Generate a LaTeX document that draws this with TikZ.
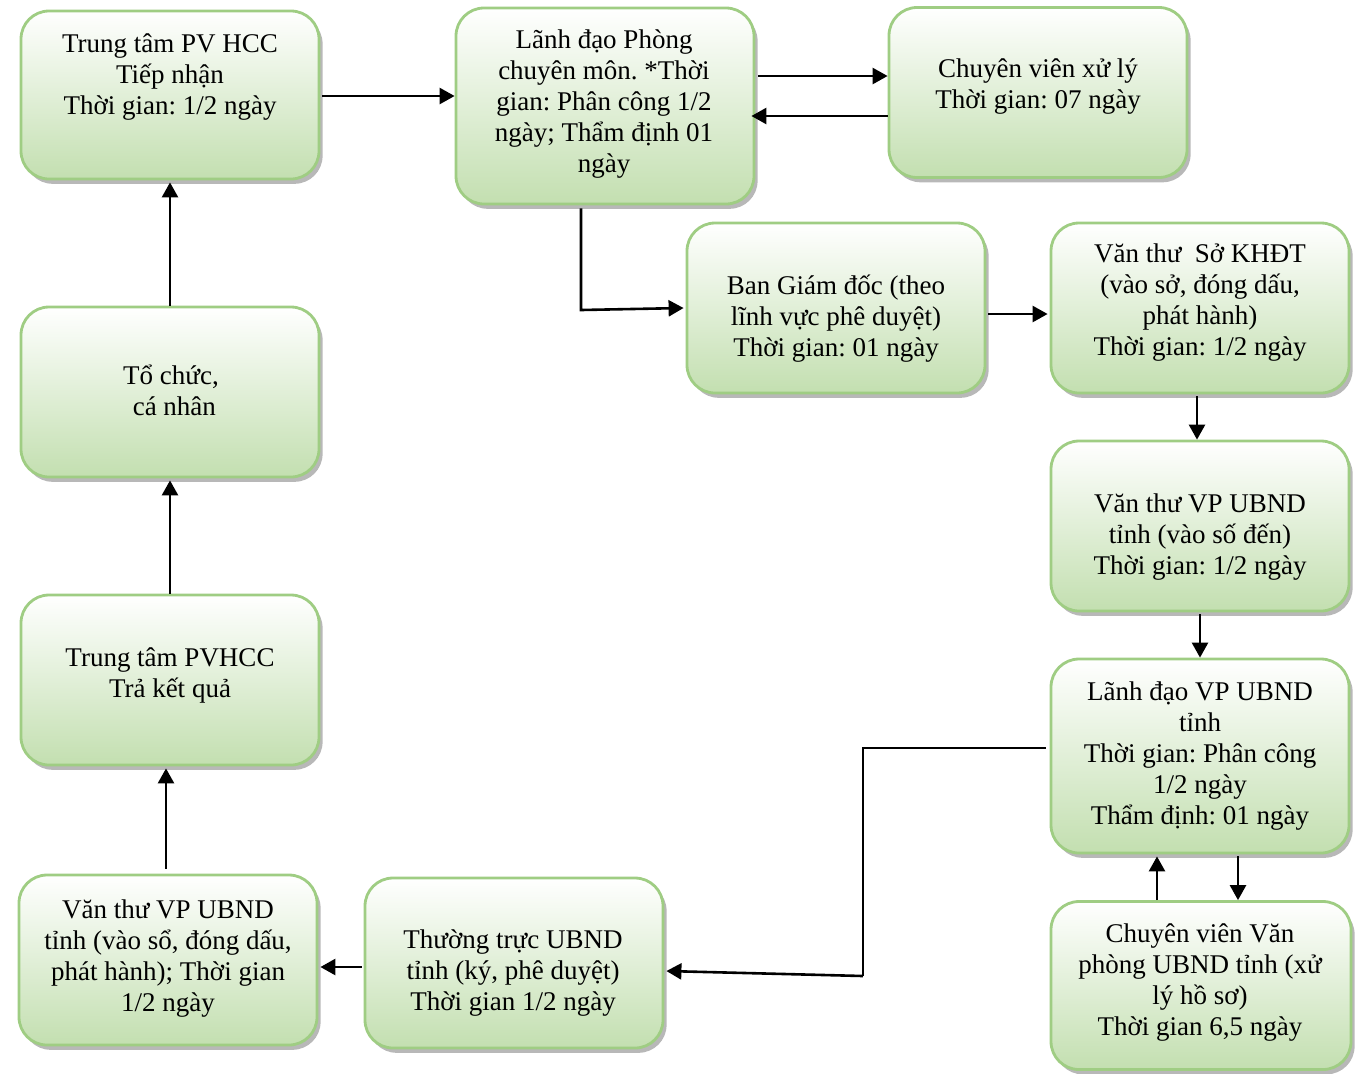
\documentclass[tikz,border=0pt]{standalone}
\usepackage{fontspec}
\setmainfont{Liberation Serif}
\usetikzlibrary{arrows.meta,shadows}
\definecolor{bordergreen}{HTML}{9FCD83}
\definecolor{fillgreen}{HTML}{C3DFB0}
\tikzset{
  box/.style={draw=bordergreen, line width=1.4pt, rounded corners=14pt,
    top color=white, bottom color=fillgreen, inner sep=0pt,
    minimum width=149pt,
    drop shadow={shadow xshift=1.8pt, shadow yshift=-2.4pt, fill=black!35, opacity=0.8}},
  txt/.style={align=center, font=\fontsize{13.5pt}{15.5pt}\selectfont, inner sep=0pt},
  arr/.style={line width=1.3pt, -{Triangle[length=7.5pt,width=8pt]}},
  ln/.style={line width=1.1pt}
}
\begin{document}
\frenchspacing
\begin{tikzpicture}[x=0.5pt,y=-0.5pt]
\useasboundingbox (0,0) rectangle (1365,1073);
% boxes
\node[box, minimum height=84pt] (A) at (170,95) {};
\node[txt] (At) at (170,77) {Trung tâm PV HCC\\Tiếp nhận\\Thời gian: 1/2 ngày};
\node[box, minimum height=98pt] (B) at (605,106) {};
\node[txt] (Bt) at (604,104) {Lãnh đạo Phòng\\chuyên môn. *Thời\\gian: Phân công 1/2\\ngày; Thẩm định 01\\ngày};
\node[box, minimum height=85pt] (C) at (1038,92.5) {};
\node[txt] (Ct) at (1038,87) {Chuyên viên xử lý\\Thời gian: 07 ngày};
\node[box, minimum height=85pt] (D) at (836,308) {};
\node[txt] (Dt) at (836,319) {Ban Giám đốc (theo\\lĩnh vực phê duyệt)\\Thời gian: 01 ngày};
\node[box, minimum height=85pt] (E) at (1200,308) {};
\node[txt] (Et) at (1200,303) {Văn thư\ \ Sở KHĐT\\(vào sở, đóng dấu,\\phát hành)\\Thời gian: 1/2 ngày};
\node[box, minimum height=85pt] (F) at (1200,526) {};
\node[txt] (Ft) at (1200,537) {Văn thư VP UBND\\tỉnh (vào số đến)\\Thời gian: 1/2 ngày};
\node[box, minimum height=97pt] (G) at (1200,756) {};
\node[txt] (Gt) at (1200,756) {Lãnh đạo VP UBND\\tỉnh\\Thời gian: Phân công\\1/2 ngày\\Thẩm định: 01 ngày};
\node[box, minimum height=84pt, minimum width=150pt] (H) at (1201,985.5) {};
\node[txt] (Ht) at (1200,982) {Chuyên viên Văn\\phòng UBND tỉnh (xử\\lý hồ sơ)\\Thời gian 6,5 ngày};
\node[box, minimum height=85pt] (I) at (514,963) {};
\node[txt] (It) at (513,973) {Thường trực UBND\\tỉnh (ký, phê duyệt)\\Thời gian 1/2 ngày};
\node[box, minimum height=85pt] (J) at (168,960) {};
\node[txt] (Jt) at (168,959) {Văn thư VP UBND\\tỉnh (vào sổ, đóng dấu,\\phát hành); Thời gian\\1/2 ngày};
\node[box, minimum height=85pt] (K) at (170,680) {};
\node[txt] (Kt) at (170,675) {Trung tâm PVHCC\\Trả kết quả};
\node[box, minimum height=85pt] (L) at (170,392) {};
\node[txt] (Lt) at (171,390) {Tổ chức,\\\ cá nhân};
% connectors
\draw[arr] ([xshift=1pt]A.east |- 0,96) -- (B.west |- 0,96);
\draw[arr] ([xshift=1.5pt]B.east |- 0,76) -- (C.west |- 0,76);
\draw[arr] (C.west |- 0,116) -- ([xshift=-2pt]B.east |- 0,116);
\coordinate (bd) at (581,310);
\draw[arr] ([yshift=-1.5pt]B.south -| bd) -- (bd) -- ([xshift=-1pt]D.west);
\draw[arr] ([xshift=1pt]D.east |- 0,314) -- ([xshift=-1pt]E.west |- 0,314);
\draw[arr] ([yshift=-1pt]E.south -| 1197,0) -- (F.north -| 1197,0);
\draw[arr] ([yshift=-1pt]F.south) -- (G.north);
\draw[arr] ([yshift=-1pt]G.south -| 1238,0) -- (H.north -| 1238,0);
\draw[arr] (H.north -| 1157,0) -- ([yshift=-1pt]G.south -| 1157,0);
\coordinate (g1) at (863,748);
\coordinate (g2) at (863,976);
\draw[ln] ([xshift=-2pt]G.west |- g1) -- (g1) -- (g2);
\draw[arr] (g2) -- ([xshift=1pt]I.east |- 0,971);
\draw[arr] ([xshift=-1pt]I.west |- 0,967) -- ([xshift=1pt]J.east |- 0,967);
\draw[arr] ([yshift=2.5pt]J.north -| 166,0) -- ([yshift=-1pt]K.south -| 166,0);
\draw[arr] (K.north) -- ([yshift=-1pt]L.south);
\draw[arr] (L.north) -- ([yshift=-1pt]A.south);
\end{tikzpicture}
\end{document}
